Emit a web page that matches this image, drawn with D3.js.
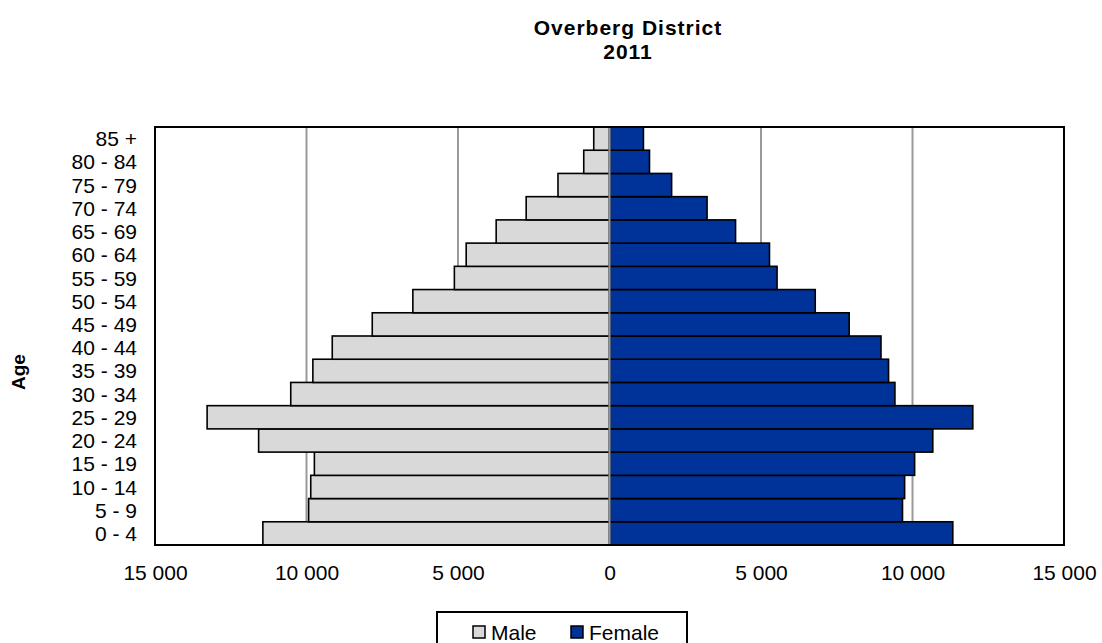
<!DOCTYPE html>
<html>
<head>
<meta charset="utf-8">
<script src="https://cdn.jsdelivr.net/npm/d3@7"></script>
<style>
  html, body { margin: 0; padding: 0; background: #fff; }
  svg { display: block; font-family: "Liberation Sans", Arial, sans-serif; }
</style>
</head>
<body>
<svg id="chart" width="1102" height="643"></svg>
<script>
const categories = ["0 - 4","5 - 9","10 - 14","15 - 19","20 - 24","25 - 29","30 - 34","35 - 39","40 - 44","45 - 49","50 - 54","55 - 59","60 - 64","65 - 69","70 - 74","75 - 79","80 - 84","85 +"];
const male   = [11440, 9930, 9860, 9740, 11580, 13280, 10520, 9790, 9150, 7830, 6490, 5120, 4730, 3740, 2750, 1700, 850, 520];
const female = [11330, 9670, 9740, 10070, 10670, 11990, 9420, 9210, 8960, 7910, 6790, 5530, 5280, 4160, 3220, 2050, 1320, 1120];
const xTicks = [-15000, -10000, -5000, 0, 5000, 10000, 15000];
const gridTicks = [-10000, -5000, 5000, 10000];
const titleLines = ["Overberg District", "2011"];
const yTitle = "Age";
const seriesNames = ["Male", "Female"];
const seriesColors = ["#d9d9d9", "#003399"];

const svg = d3.select("#chart");
const L = 155, R = 1064, T = 127, B = 545;

const x = d3.scaleLinear().domain([-15000, 15000]).range([L, R]);
const y = d3.scaleBand().domain(categories).range([B, T]).padding(0);

// plot background
svg.append("rect").attr("x", L).attr("y", T).attr("width", R - L).attr("height", B - T)
  .attr("fill", "#fff");

// gridlines
svg.append("g").selectAll("line").data(gridTicks).join("line")
  .attr("x1", d => x(d)).attr("x2", d => x(d))
  .attr("y1", T).attr("y2", B)
  .attr("stroke", "#999").attr("stroke-width", 2);

// bars
const g = svg.append("g");
g.selectAll("rect.male").data(categories).join("rect").attr("class", "male")
  .attr("x", (d, i) => x(-male[i]))
  .attr("width", (d, i) => x(0) - x(-male[i]))
  .attr("y", d => y(d)).attr("height", y.bandwidth())
  .attr("fill", seriesColors[0]).attr("stroke", "#000").attr("stroke-width", 1.6);
g.selectAll("rect.female").data(categories).join("rect").attr("class", "female")
  .attr("x", x(0))
  .attr("width", (d, i) => x(female[i]) - x(0))
  .attr("y", d => y(d)).attr("height", y.bandwidth())
  .attr("fill", seriesColors[1]).attr("stroke", "#000").attr("stroke-width", 1.6);

// zero axis line
svg.append("line").attr("x1", x(0)).attr("x2", x(0)).attr("y1", T).attr("y2", B)
  .attr("stroke", "#999").attr("stroke-width", 2);

// plot border
svg.append("rect").attr("x", L).attr("y", T).attr("width", R - L).attr("height", B - T)
  .attr("fill", "none").attr("stroke", "#000").attr("stroke-width", 2);

// x axis
const fmt = v => d3.format(",")(Math.abs(v)).replace(/,/g, " ");
const xAxis = svg.append("g").attr("transform", `translate(0,${B})`)
  .call(d3.axisBottom(x).tickValues(xTicks).tickFormat(fmt).tickSize(0).tickPadding(0));
xAxis.select(".domain").remove();
xAxis.selectAll("text").attr("font-size", 21).attr("fill", "#000")
  .attr("font-family", "Liberation Sans, Arial, sans-serif")
  .attr("dy", null).attr("y", 35);

// y axis
const yAxis = svg.append("g").attr("transform", `translate(${L},0)`)
  .call(d3.axisLeft(y).tickSize(0).tickPadding(18));
yAxis.select(".domain").remove();
yAxis.selectAll("text").attr("font-size", 21).attr("fill", "#000")
  .attr("font-family", "Liberation Sans, Arial, sans-serif")
  .attr("dy", "0.36em");

// title
svg.append("text").attr("x", 628).attr("y", 35).attr("text-anchor", "middle")
  .attr("font-size", 21).attr("font-weight", "bold").attr("letter-spacing", 1).text(titleLines[0]);
svg.append("text").attr("x", 628).attr("y", 59).attr("text-anchor", "middle")
  .attr("font-size", 21).attr("font-weight", "bold").attr("letter-spacing", 1).text(titleLines[1]);

// y title
svg.append("text").attr("transform", "translate(25,372) rotate(-90)")
  .attr("text-anchor", "middle").attr("font-size", 19).attr("font-weight", "bold").text(yTitle);

// legend
svg.append("rect").attr("x", 437).attr("y", 612).attr("width", 250).attr("height", 40)
  .attr("fill", "#fff").attr("stroke", "#000").attr("stroke-width", 2);
const legX = [473, 571];
seriesNames.forEach((name, i) => {
  svg.append("rect").attr("x", legX[i]).attr("y", 626).attr("width", 12).attr("height", 12)
    .attr("fill", seriesColors[i]).attr("stroke", "#000").attr("stroke-width", 1.5);
  svg.append("text").attr("x", legX[i] + 18).attr("y", 640).attr("font-size", 21).text(name);
});
</script>
</body>
</html>
